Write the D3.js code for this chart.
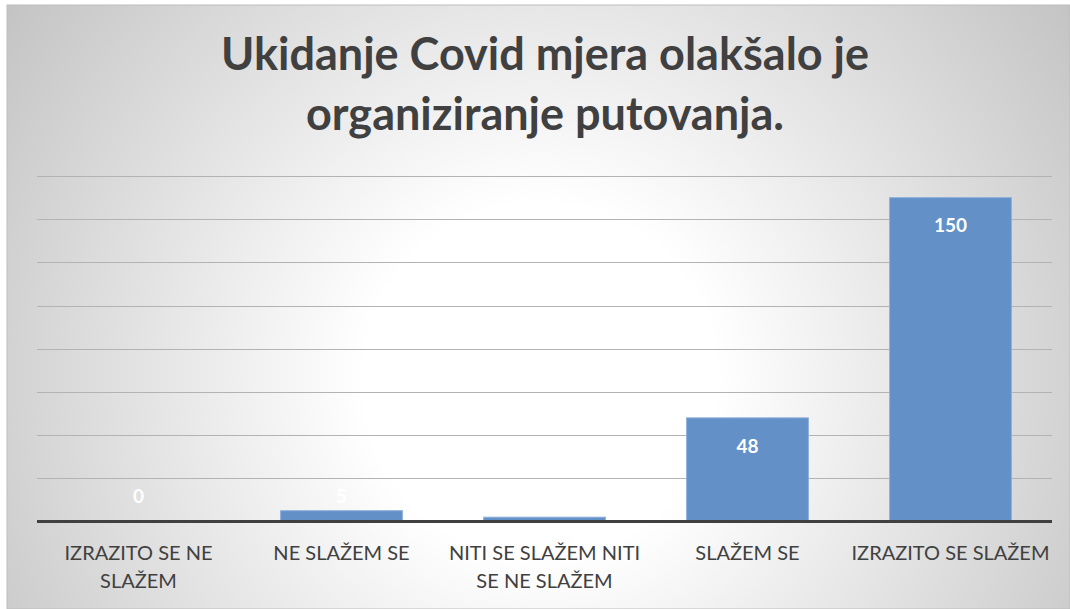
<!DOCTYPE html>
<html>
<head>
<meta charset="utf-8">
<script src="https://cdn.jsdelivr.net/npm/d3@7"></script>
<style>
  html, body { margin: 0; padding: 0; background: #ffffff; }
  svg { display: block; }
</style>
</head>
<body>
<svg id="chart" width="1070" height="609"></svg>
<script>
// Survey answers and counts
const categories = [
  "IZRAZITO SE NE SLAŽEM",
  "NE SLAŽEM SE",
  "NITI SE SLAŽEM NITI SE NE SLAŽEM",
  "SLAŽEM SE",
  "IZRAZITO SE SLAŽEM"
];
const counts = [0, 5, 2, 48, 150];
const gridTicks = [0, 20, 40, 60, 80, 100, 120, 140, 160];
const titleLines = ["Ukidanje Covid mjera olakšalo je", "organiziranje putovanja."];

const W = 1070, H = 609;
const svg = d3.select("#chart");
const font = "Lato, 'Open Sans', sans-serif";

// Chart area background with soft radial shading
const defs = svg.append("defs");
const grad = defs.append("radialGradient")
  .attr("id", "bg")
  .attr("gradientUnits", "userSpaceOnUse")
  .attr("cx", 540).attr("cy", 380).attr("r", 680);
grad.append("stop").attr("offset", 0).attr("stop-color", "#ffffff");
grad.append("stop").attr("offset", 0.26).attr("stop-color", "#ffffff");
grad.append("stop").attr("offset", 1).attr("stop-color", "#c0c0c0");

svg.append("rect")
  .attr("x", 7).attr("y", 5).attr("width", W - 7).attr("height", H - 5)
  .attr("fill", "url(#bg)")
  .attr("stroke", "#bdbdbd").attr("stroke-width", 1);

const plot = { left: 37, right: 1052, top: 176, bottom: 521.5 };

const x = d3.scaleBand()
  .domain(categories)
  .range([plot.left, plot.right])
  .paddingInner(0.4)
  .paddingOuter(0.2);

const y = d3.scaleLinear()
  .domain([0, 160])
  .range([plot.bottom, plot.top]);

// Horizontal gridlines
svg.append("g")
  .selectAll("line")
  .data(gridTicks.filter(d => d > 0))
  .join("line")
  .attr("x1", plot.left).attr("x2", plot.right)
  .attr("y1", d => Math.round(y(d)) + 0.5)
  .attr("y2", d => Math.round(y(d)) + 0.5)
  .attr("stroke", "#b3b3b3")
  .attr("stroke-width", 1);

// Bars
svg.append("g")
  .selectAll("rect")
  .data(categories.map((c, i) => ({ c, v: counts[i] })))
  .join("rect")
  .attr("x", d => x(d.c))
  .attr("width", x.bandwidth())
  .attr("y", d => y(d.v))
  .attr("height", d => y(0) - y(d.v))
  .attr("fill", "#6390c7")
  .attr("stroke", "#8eb0da")
  .attr("stroke-width", d => d.v > 0 ? 1 : 0);

// Category axis line
svg.append("line")
  .attr("x1", plot.left).attr("x2", plot.right)
  .attr("y1", plot.bottom).attr("y2", plot.bottom)
  .attr("stroke", "#404040")
  .attr("stroke-width", 3);

// Value labels inside the top of each bar
svg.append("g")
  .selectAll("text")
  .data(categories.map((c, i) => ({ c, v: counts[i] })))
  .join("text")
  .attr("x", d => x(d.c) + x.bandwidth() / 2)
  .attr("y", d => Math.min(y(d.v) + 28, y(0) - 25))
  .attr("dy", "0.36em")
  .attr("text-anchor", "middle")
  .attr("font-family", font)
  .attr("font-weight", "bold")
  .attr("font-size", 19)
  .attr("fill", "#ffffff")
  .text(d => d.v);

// Category labels, wrapped to the band width
const axisG = svg.append("g");
const step = x.step();
categories.forEach(c => {
  const cx = x(c) + x.bandwidth() / 2;
  const t = axisG.append("text")
    .attr("x", cx)
    .attr("y", 560)
    .attr("text-anchor", "middle")
    .attr("font-family", font)
    .attr("font-size", 20)
    .attr("fill", "#404040");
  const words = c.split(" ");
  let line = [];
  let tspan = t.append("tspan").attr("x", cx).attr("dy", 0);
  words.forEach(w => {
    line.push(w);
    tspan.text(line.join(" "));
    if (tspan.node().getComputedTextLength() > step && line.length > 1) {
      line.pop();
      tspan.text(line.join(" "));
      line = [w];
      tspan = t.append("tspan")
        .attr("x", cx)
        .attr("dy", 28)
        .text(w);
    }
  });
});

// Title
svg.append("g")
  .selectAll("text")
  .data(titleLines)
  .join("text")
  .attr("x", 545)
  .attr("y", (d, i) => 70 + i * 60)
  .attr("text-anchor", "middle")
  .attr("font-family", font)
  .attr("font-weight", "bold")
  .attr("font-size", 45)
  .attr("fill", "#404040")
  .text(d => d);
</script>
</body>
</html>
